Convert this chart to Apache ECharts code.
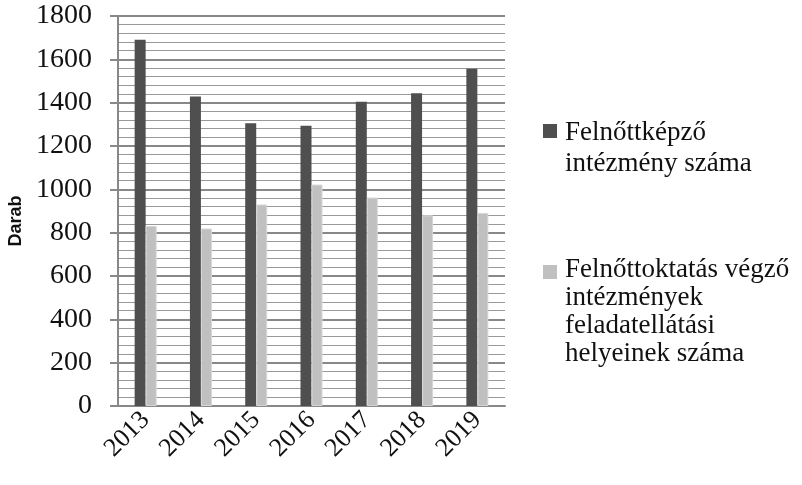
<!DOCTYPE html>
<html><head><meta charset="utf-8">
<script src="https://cdn.jsdelivr.net/npm/echarts@6/dist/echarts.min.js"></script>
<style>html,body{margin:0;padding:0;background:#fff}#c{width:802px;height:485px}</style>
</head><body><div id="c"></div>
<script>
const years = ['2013','2014','2015','2016','2017','2018','2019'];
const seriesNames = ['Felnőttképző\nintézmény száma', 'Felnőttoktatás végző\nintézmények\nfeladatellátási\nhelyeinek száma'];
const institutions = [1690, 1428, 1305, 1294, 1404, 1443, 1556];
const sites = [831, 819, 930, 1022, 962, 880, 891];
const yTicks = {min: 0, max: 1800, interval: 200};

const serif = '"Liberation Serif","Times New Roman",serif';
// legend marker: a 14x14 square aligned with the first text line inside a tall icon box
function markerPath(boxH, sqTop) {
  return 'path://M0,0h0.01v0.01h-0.01Z M0,' + sqTop + 'h14v14h-14Z M16.99,' + (boxH - 0.01) + 'h0.01v0.01h-0.01Z';
}
function legendItem(idx, lines, lh, top, sqTop) {
  const boxH = lines * lh;
  return {
    data: [{name: seriesNames[idx], icon: markerPath(boxH, sqTop)}],
    left: 538, top: top, orient: 'vertical', itemWidth: 17, itemHeight: boxH, itemGap: 0,
    symbolKeepAspect: false,
    itemStyle: {borderWidth: 0},
    textStyle: {fontFamily: serif, fontSize: 27, color: '#111', lineHeight: lh}
  };
}
const chart = echarts.init(document.getElementById('c'));
chart.setOption({
  animation: false,
  backgroundColor: '#fff',
  grid: {left: 118, right: 297, top: 16, bottom: 79},
  legend: [legendItem(0, 2, 31, 112, 7), legendItem(1, 4, 28, 251, 9)],
  xAxis: {
    type: 'category', data: years,
    axisLine: {lineStyle: {color: '#888', width: 2}},
    axisTick: {show: false},
    axisLabel: {rotate: 45, fontFamily: serif, fontSize: 26, color: '#111', margin: 10}
  },
  yAxis: {
    type: 'value', min: yTicks.min, max: yTicks.max, interval: yTicks.interval,
    name: 'Darab', nameLocation: 'middle', nameGap: 93,
    nameTextStyle: {fontFamily: '"Liberation Sans",Arial,sans-serif', fontWeight: 'bold', fontSize: 18, color: '#111', padding: [0, 20, 0, 0]},
    axisLine: {show: true, lineStyle: {color: '#888', width: 2}},
    axisTick: {show: true, length: 8, lineStyle: {color: '#888', width: 2}},
    axisLabel: {fontFamily: serif, fontSize: 28, color: '#111', margin: 26, formatter: v => String(v)},
    splitLine: {lineStyle: {color: '#888', width: 2}},
    minorTick: {show: false, splitNumber: 5},
    minorSplitLine: {show: true, lineStyle: {color: '#999', width: 1}}
  },
  series: [
    {name: seriesNames[0], type: 'bar', data: institutions, barWidth: 11, barGap: '0%',
     itemStyle: {color: '#4f4f4f'}},
    {name: seriesNames[1], type: 'bar', data: sites, barWidth: 11, barGap: '0%',
     itemStyle: {color: '#c0c0c0', borderColor: '#d6d6d6', borderWidth: 1}}
  ]
});
</script></body></html>
